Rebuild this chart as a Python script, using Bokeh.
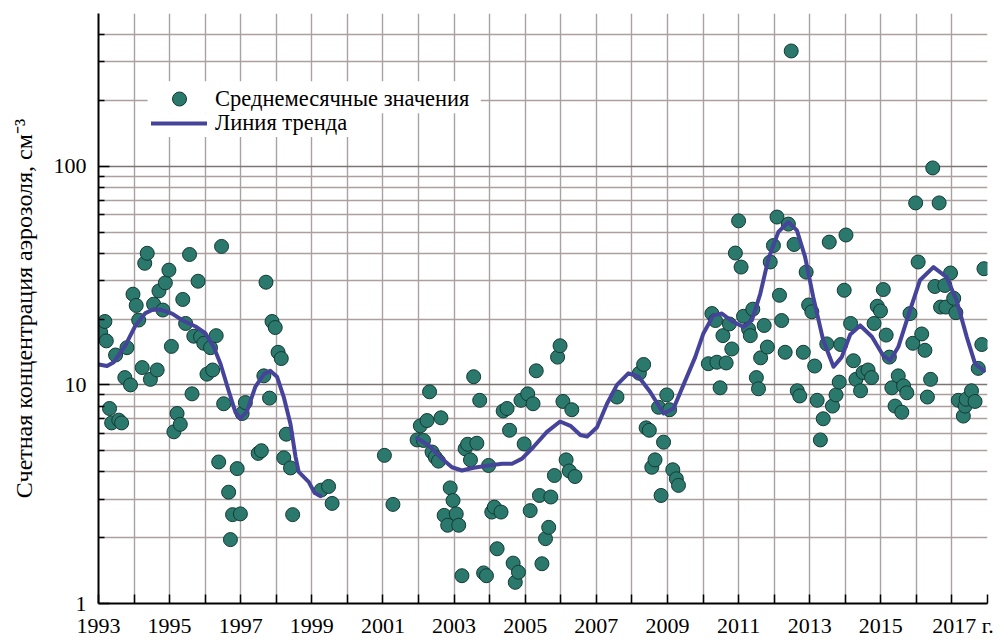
import math
from bokeh.plotting import figure
from bokeh.models import FixedTicker, Legend, LegendItem, BoxAnnotation
from bokeh.embed import file_html
from bokeh.resources import INLINE

# ---------------- data ----------------
years = [
    1993.06, 1993.18, 1993.22, 1993.31, 1993.37, 1993.48, 1993.57, 1993.65, 1993.74, 1993.80,
    1993.90, 1993.97, 1994.06, 1994.13, 1994.23, 1994.30, 1994.37, 1994.46, 1994.55, 1994.65,
    1994.70, 1994.81, 1994.88, 1994.98, 1995.05, 1995.12, 1995.21, 1995.30, 1995.37, 1995.45,
    1995.56, 1995.63, 1995.68, 1995.80, 1995.87, 1995.96, 1996.05, 1996.15, 1996.21, 1996.31,
    1996.38, 1996.46, 1996.52, 1996.66, 1996.71, 1996.77, 1996.90, 1996.99, 1997.04, 1997.13,
    1997.49, 1997.58, 1997.65, 1997.71, 1997.81, 1997.88, 1997.97, 1998.05, 1998.14, 1998.21,
    1998.28, 1998.40, 1998.46, 1999.26, 1999.47, 1999.57,
    2001.04, 2001.28, 2001.96, 2002.05, 2002.14, 2002.24, 2002.31, 2002.38, 2002.47, 2002.56,
    2002.63, 2002.72, 2002.82, 2002.89, 2002.97, 2003.06, 2003.13, 2003.22, 2003.31, 2003.38,
    2003.46, 2003.55, 2003.64, 2003.72, 2003.83, 2003.91, 2003.97, 2004.06, 2004.13, 2004.21,
    2004.32, 2004.38, 2004.49, 2004.56, 2004.66, 2004.72, 2004.81, 2004.88, 2004.97, 2005.07,
    2005.14, 2005.22, 2005.31, 2005.40, 2005.47, 2005.57, 2005.66, 2005.72, 2005.82, 2005.91,
    2005.98, 2006.06, 2006.15, 2006.24, 2006.31, 2006.40, 2007.58, 2008.21, 2008.33, 2008.40,
    2008.49, 2008.56, 2008.65, 2008.75, 2008.82, 2008.89, 2008.98, 2009.06, 2009.15, 2009.25,
    2009.31,
    2010.15, 2010.25, 2010.35, 2010.39, 2010.48, 2010.56, 2010.65, 2010.74, 2010.81, 2010.91,
    2011.00, 2011.07, 2011.14, 2011.28, 2011.33, 2011.40, 2011.50, 2011.56, 2011.62, 2011.72,
    2011.81, 2011.89, 2011.98, 2012.08, 2012.15, 2012.21, 2012.31, 2012.40, 2012.48, 2012.56,
    2012.65, 2012.72, 2012.82, 2012.90, 2012.97, 2013.06, 2013.14, 2013.21, 2013.30, 2013.38,
    2013.48, 2013.55, 2013.64, 2013.74, 2013.83, 2013.87, 2013.97, 2014.02, 2014.15, 2014.23,
    2014.30, 2014.43, 2014.50, 2014.64, 2014.74, 2014.81, 2014.90, 2014.99, 2015.07, 2015.15,
    2015.24, 2015.31, 2015.40, 2015.49, 2015.59, 2015.64, 2015.73, 2015.82, 2015.90, 2015.98,
    2016.05, 2016.15, 2016.24, 2016.31, 2016.40, 2016.46, 2016.52, 2016.64, 2016.68, 2016.80,
    2016.83, 2016.96, 2017.05, 2017.11, 2017.18, 2017.32, 2017.37, 2017.40, 2017.55, 2017.65,
    2017.74, 2017.84, 2017.90,
]
values = [
    17.4, 19.5, 15.9, 7.8, 6.7, 13.7, 6.9, 6.7, 10.8, 14.8,
    10.0, 26.0, 23.1, 19.8, 12.0, 36.0, 40.0, 10.6, 23.4, 11.7,
    26.9, 22.0, 29.3, 33.5, 15.0, 6.1, 7.4, 6.6, 24.6, 19.1,
    39.5, 9.1, 16.7, 29.8, 16.6, 15.5, 11.2, 14.8, 11.7, 16.8,
    4.44, 43.0, 8.2, 3.23, 1.96, 2.55, 4.14, 2.57, 7.4, 8.3,
    4.86, 5.0, 11.0, 29.5, 8.7, 19.5, 18.3, 14.1, 13.2, 4.64,
    5.95, 4.17, 2.55, 3.3, 3.43, 2.87,
    4.76, 2.84, 5.6, 6.5, 5.57, 6.87, 9.3, 4.93, 4.67, 4.48,
    7.07, 2.53, 2.28, 3.38, 2.96, 2.57, 2.28, 1.34, 5.1, 5.35,
    4.54, 10.9, 5.41, 8.5, 1.38, 1.34, 4.28, 2.62, 2.76, 1.78,
    2.62, 7.6, 7.8, 6.2, 1.53, 1.25, 1.39, 8.5, 5.37, 9.1,
    2.66, 8.2, 11.6, 3.12, 1.52, 1.98, 2.23, 3.07, 3.85, 13.4,
    15.1, 8.4, 4.54, 4.04, 7.7, 3.81, 8.8, 11.3, 12.4, 6.36,
    6.2, 4.2, 4.54, 7.9, 3.12, 5.47, 9.0, 7.7, 4.09, 3.72,
    3.47,
    12.5, 21.2, 19.7, 12.7, 9.7, 16.8, 12.6, 19.0, 14.6, 40.1,
    56.3, 34.6, 20.6, 18.0, 16.8, 22.2, 10.8, 9.6, 13.3, 18.7,
    14.9, 36.5, 43.4, 58.6, 25.7, 19.7, 14.1, 54.4, 337.0, 43.9,
    9.4, 8.9, 14.1, 32.8, 23.2, 21.6, 12.2, 8.5, 5.6, 7.0,
    15.4, 45.0, 8.0, 9.0, 10.3, 15.3, 27.1, 48.5, 19.1, 12.9,
    10.6, 9.4, 11.4, 11.7, 10.8, 19.1, 22.9, 21.8, 27.3, 16.9,
    13.4, 9.7, 8.0, 11.0, 7.5, 9.9, 9.2, 21.2, 15.5, 68.0,
    36.5, 17.1, 14.4, 8.8, 10.6, 98.3, 28.2, 68.0, 22.7, 28.5,
    22.7, 32.5, 24.9, 21.4, 8.5, 7.2, 8.0, 8.6, 9.4, 8.4,
    11.9, 15.3, 34.0,
]

trend1_years = [
    1993.01, 1993.24, 1993.43, 1993.76, 1994.04, 1994.32, 1994.55, 1994.79, 1995.07, 1995.37,
    1995.73, 1996.01, 1996.24, 1996.43, 1996.66, 1996.85, 1996.99, 1997.18, 1997.41, 1997.65,
    1997.83, 1998.02, 1998.21, 1998.40, 1998.54, 1998.63, 1998.91, 1999.08, 1999.24,
]
trend1_values = [
    12.4, 12.2, 12.7, 15.2, 18.7, 21.3, 22.2, 22.0, 21.2, 19.7,
    18.5, 17.2, 14.9, 12.5, 9.4, 7.5, 7.0, 7.6, 9.8, 11.2,
    11.6, 10.9, 8.8, 6.6, 4.7, 4.0, 3.6, 3.2, 3.1,
]
trend2_years = [
    2001.96, 2002.28, 2002.61, 2002.94, 2003.22, 2003.55, 2003.97, 2004.35, 2004.63, 2004.91,
    2005.23, 2005.61, 2005.98, 2006.27, 2006.55, 2006.74, 2007.02, 2007.30, 2007.58, 2007.90,
    2008.19, 2008.51, 2008.89, 2009.17, 2009.45, 2009.78, 2010.01, 2010.29, 2010.53, 2010.81,
    2011.14, 2011.37, 2011.61, 2011.84, 2012.12, 2012.40, 2012.64, 2012.87, 2013.10, 2013.38,
    2013.67, 2013.90, 2014.14, 2014.42, 2014.75, 2015.07, 2015.26, 2015.49, 2015.82, 2016.10,
    2016.48, 2016.85, 2017.13, 2017.42, 2017.65, 2017.90,
]
trend2_values = [
    5.7, 5.3, 4.67, 4.2, 4.06, 4.18, 4.28, 4.36, 4.36, 4.6,
    5.2, 6.1, 6.8, 6.5, 5.9, 5.8, 6.4, 8.2, 10.0, 11.3,
    10.9, 9.3, 7.4, 7.8, 10.0, 13.4, 17.2, 20.8, 21.2, 19.6,
    18.4, 19.7, 26.1, 37.8, 50.1, 55.6, 50.9, 38.5, 25.2, 16.0,
    12.1, 13.4, 17.0, 18.7, 16.6, 13.6, 12.9, 14.9, 21.9, 30.1,
    34.6, 31.1, 24.4, 16.5, 12.5, 11.6,
]

x_labels_years = [1993, 1995, 1997, 1999, 2001, 2003, 2005, 2007, 2009, 2011, 2013, 2015, 2017]
x_minor_years = [1994, 1996, 1998, 2000, 2002, 2004, 2006, 2008, 2010, 2012, 2014, 2016, 2018]
y_major = [1, 10, 100]
y_minor = [2, 3, 4, 5, 6, 7, 8, 9, 20, 30, 40, 50, 60, 70, 80, 90, 200, 300, 400]

legend_points = "Среднемесячные значения"
legend_trend = "Линия тренда"
y_title = "Счетная концентрация аэрозоля, см⁻³"
year_suffix = "г."

FONT = "Liberation Serif"

# ---------------- figure ----------------
p = figure(
    frame_width=889, frame_height=590,
    x_range=(1993, 2018), y_range=(1, 500), y_axis_type="log",
    output_backend="svg", toolbar_location=None,
    min_border_left=98, min_border_top=13, min_border_right=12, min_border_bottom=30,
    background_fill_color="white", border_fill_color="white",
)
p.outline_line_color = None

# axes
p.xaxis.ticker = FixedTicker(ticks=x_labels_years, minor_ticks=x_minor_years)
# last label carries the unit; leading figure spaces keep "2017" centred on its tick
p.xaxis.major_label_overrides = {2017: "\u2007\u20072017 " + year_suffix}
p.yaxis.ticker = FixedTicker(ticks=y_major, minor_ticks=y_minor)
p.yaxis.major_label_overrides = {1: "1", 10: "10", 100: "100"}

for ax in (p.xaxis[0], p.yaxis[0]):
    ax.axis_line_color = "black"
    ax.axis_line_width = 2
    ax.major_tick_line_color = "black"
    ax.minor_tick_line_color = "black"
    ax.major_tick_line_width = 1.5
    ax.minor_tick_line_width = 1.5
    ax.major_tick_out = 0
    ax.minor_tick_out = 0
    ax.major_label_text_font = FONT
    ax.major_label_text_font_size = "22px"
    ax.major_label_text_color = "black"

p.xaxis.major_tick_in = 9
p.xaxis.minor_tick_in = 9
p.xaxis.major_label_standoff = 9
p.yaxis.major_tick_in = 11
p.yaxis.minor_tick_in = 6
p.yaxis.major_label_standoff = 12

p.yaxis.axis_label = y_title
p.yaxis.axis_label_text_font = FONT
p.yaxis.axis_label_text_font_size = "24px"
p.yaxis.axis_label_text_font_style = "normal"
p.yaxis.axis_label_text_color = "black"
p.yaxis.axis_label_standoff = 14

# grids
p.xgrid.grid_line_color = "#aaa2a2"
p.xgrid.grid_line_width = 1.4
p.xgrid.minor_grid_line_color = "#aaa2a2"
p.xgrid.minor_grid_line_width = 1.4
p.ygrid.grid_line_color = "#7d7474"
p.ygrid.grid_line_width = 1.6
p.ygrid.minor_grid_line_color = "#ab9f9f"
p.ygrid.minor_grid_line_width = 1.4

# data
pts = p.scatter(years, values, size=14, marker="circle",
                fill_color="#2b786d", line_color="#143a34", line_width=1)

trend_x = trend1_years + [float("nan")] + trend2_years
trend_y = trend1_values + [float("nan")] + trend2_values
ln = p.line(trend_x, trend_y, line_color="#46449a", line_width=4,
            line_join="round", line_cap="round")

# white patches behind the legend texts (the grid is hidden there)
p.add_layout(BoxAnnotation(left=1994.38, right=2003.75, bottom=174.8, top=245.0,
                           fill_color="white", fill_alpha=1.0, line_color=None))
p.add_layout(BoxAnnotation(left=1994.38, right=2000.2, bottom=136.0, top=174.8,
                           fill_color="white", fill_alpha=1.0, line_color=None))

common = dict(glyph_width=56, label_standoff=8, padding=0, margin=0, spacing=0,
              label_text_font=FONT, label_text_font_size="22.5px", label_text_color="black",
              background_fill_alpha=0.0, border_line_color=None)

# two single-row legends so the marker keeps its full size while rows stay close
legend_pts = Legend(items=[LegendItem(label=legend_points, renderers=[pts])],
                    location=(53, 487), glyph_height=35, label_height=35, **common)
legend_ln = Legend(items=[LegendItem(label=legend_trend, renderers=[ln])],
                   location=(53, 467), glyph_height=20, label_height=20, **common)
p.add_layout(legend_pts, "center")
p.add_layout(legend_ln, "center")

with open("out.html", "w") as f:
    f.write(file_html(p, INLINE))
